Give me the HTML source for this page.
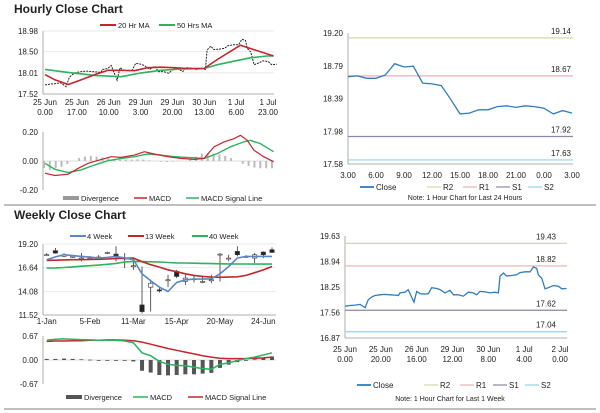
<!DOCTYPE html>
<html><head><meta charset="utf-8"><style>
html,body{margin:0;padding:0;background:#fff;}
svg{display:block;font-family:"Liberation Sans",Arial,sans-serif;}
text{fill:#222;}
</style></head><body>
<svg id="s" width="600" height="413" viewBox="0 0 600 413" xmlns="http://www.w3.org/2000/svg">
<text x="14" y="13" font-size="12" font-weight="bold">Hourly Close Chart</text>
<text x="14" y="219" font-size="12" font-weight="bold">Weekly Close Chart</text>
<line x1="4" y1="205" x2="596" y2="205" stroke="#aaa" stroke-width="1.5"/>
<line x1="4" y1="409" x2="596" y2="409" stroke="#aaa" stroke-width="1.5"/>
<text x="465" y="200" font-size="7" text-anchor="middle">Note: 1 Hour Chart for Last 24 Hours</text>
<text x="450" y="401" font-size="7" text-anchor="middle">Note: 1 Hour Chart for Last 1 Week</text>
</svg>
<script>
// ---------- data ----------
const wkHours=[0,2.8,5.6,8.4,11.2,13,14.9,16.7,19.5,22.3,25.1,27.9,29.8,30.7,33.5,35.3,36.8,38.5,40,41.9,44.7,46.5,48.4,51.2,53,55.8,58.6,60.5,63.3,66.0,68.8,71.6,73.5,75.3,78.1,80.9,83.7,85.6,86.5,88.4,90.2,93,95.8,97.7,100.5,103.3,105.1,107,107.9,109.8,111.6,113.5,116.3,119.1,121,123.7];
const wkClose=[17.73,17.75,17.76,17.78,17.69,17.91,17.98,18.02,18.04,18.05,18.04,18.03,18.02,18.09,18.11,18.18,18.02,17.84,18.13,18.07,18.06,18.07,18.23,18.21,18.18,18.09,18.16,18.04,18.04,18.00,18.11,18.09,18.04,18.13,18.12,18.09,18.11,18.09,18.54,18.63,18.55,18.56,18.58,18.64,18.66,18.66,18.79,18.76,18.58,18.49,18.20,18.23,18.29,18.27,18.20,18.21];
const ma20Hours=[0,5.3,12.4,19.4,26.5,33.6,40.7,47.7,54.8,61.9,69,76,84.9,92,99,104.3,111.4,118.5,122];
const ma20=[17.97,17.85,17.74,17.85,17.97,18.07,18.07,18.06,18.13,18.14,18.13,18.11,18.11,18.32,18.51,18.65,18.55,18.45,18.40];
const ma50Hours=[0,12.4,26.5,40.7,51.3,61.9,72.5,84.9,92,100.8,109.6,118.5,122];
const ma50=[18.09,18.02,17.95,17.92,18.01,18.07,18.10,18.11,18.20,18.28,18.36,18.40,18.40];
const hMacdHours=[0,5.3,12.4,17.7,23,30.1,35.4,40.7,47.7,53,58.3,65.4,72.5,79.6,84.9,90.2,95.5,100.8,104.3,107.9,111.4,116.7,122];
const hMacd=[-0.084,-0.10,-0.091,-0.05,-0.016,0.011,0.03,0.025,0.041,0.064,0.048,0.03,0.018,0.011,0.018,0.098,0.132,0.154,0.177,0.143,0.075,0.03,-0.005];
const hSigHours=[0,5.3,12.4,19.4,26.5,33.6,40.7,47.7,54.8,61.9,69,76,84.9,92,99,106.1,109.6,114.9,122];
const hSig=[-0.016,-0.057,-0.079,-0.061,-0.027,0.002,0.018,0.03,0.048,0.041,0.03,0.025,0.018,0.052,0.098,0.132,0.143,0.12,0.064];
const hDiv=[-0.05,-0.06,-0.05,-0.04,-0.02,0.0,0.02,0.03,0.035,0.03,0.025,0.02,0.01,0.01,0.008,0.01,0.012,0.01,0.005,0.0,-0.005,-0.007,-0.005,-0.003,0.0,0.01,0.03,0.05,0.055,0.05,0.045,0.035,0.02,0.0,-0.02,-0.035,-0.045,-0.05,-0.05,-0.05];
const hTicks=[17.52,18.01,18.50,18.98];
const hXLabels=[["25 Jun","0.00"],["25 Jun","17.00"],["26 Jun","10.00"],["29 Jun","3.00"],["29 Jun","20.00"],["30 Jun","13.00"],["1 Jul","6.00"],["1 Jul","23.00"]];
const hXLabelHours=[0,17,34,51,68,85,102,119];

const dayHours=[0,1,2,3,4,5,6,7,8,9,10,11,12,13,14,15,16,17,18,19,20,21,22,23,24];
const dayClose=[18.66,18.67,18.64,18.64,18.68,18.82,18.78,18.79,18.58,18.57,18.55,18.38,18.20,18.21,18.25,18.25,18.29,18.30,18.28,18.30,18.29,18.27,18.20,18.24,18.21];
const dayTicks=[17.58,17.98,18.39,18.79,19.20];
const dayXLabels=["3.00","6.00","9.00","12.00","15.00","18.00","21.00","0.00","3.00"];
const dayLevels=[19.14,18.67,17.92,17.63];
const wkLevels=[19.43,18.82,17.62,17.04];
const levelNames=["R2","R1","S1","S2"];
const wkTicks=[16.87,17.56,18.25,18.94,19.63];
const wkXLabels=[["25 Jun","0.00"],["25 Jun","20.00"],["26 Jun","16.00"],["29 Jun","12.00"],["30 Jun","8.00"],["1 Jul","4.00"],["2 Jul","0.00"]];
const wkXLabelHours=[0,20,40,60,80,100,120];

const wOpen=[18.04,18.48,17.86,17.86,17.68,17.68,17.79,18.29,18.11,17.68,16.85,12.61,14.53,14.24,15.33,16.23,15.15,15.44,15.15,15.33,18.11,17.68,18.40,17.86,17.68,18.33,18.58];
const wClose=[18.04,18.22,18.04,17.86,17.68,17.68,17.79,18.29,17.86,17.68,16.85,11.89,14.96,14.13,15.33,15.69,15.51,15.44,15.15,15.33,18.11,17.68,18.04,17.86,18.04,18.04,18.29];
const wHigh=[18.2,18.77,18.2,18.0,18.22,17.9,18.0,18.4,18.95,18.22,17.5,16.77,15.33,14.6,15.87,16.41,15.87,15.76,15.69,15.87,18.22,18.04,18.95,18.0,18.22,18.40,18.84];
const wLow=[17.9,18.15,17.8,17.7,17.32,17.5,17.6,18.1,17.32,16.59,16.41,11.70,11.89,13.95,14.53,15.51,14.78,15.04,14.96,14.96,15.15,17.32,17.86,17.7,17.14,17.68,18.22];
const w4=[17.50,17.8,18.04,17.95,17.86,17.78,17.68,17.75,17.86,17.7,17.50,15.98,15.22,14.53,14.06,15.04,15.33,15.40,15.40,15.44,15.98,16.77,17.68,17.86,17.86,17.86,17.86];
const w13=[17.43,17.45,17.48,17.5,17.5,17.52,17.55,17.58,17.62,17.66,17.68,17.3,16.96,16.7,16.41,16.2,15.98,15.8,15.7,15.62,15.6,15.62,15.65,15.8,16.1,16.4,16.77];
const w40=[16.59,16.62,16.66,16.72,16.8,16.85,16.92,17.0,17.1,17.25,17.32,17.3,17.28,17.25,17.2,17.15,17.14,17.12,17.1,17.08,17.06,17.05,17.04,17.04,17.03,17.03,17.03];
const wMacd=[0.55,0.58,0.59,0.58,0.57,0.56,0.55,0.55,0.55,0.53,0.48,0.20,0.12,-0.04,-0.12,-0.15,-0.16,-0.20,-0.24,-0.26,-0.12,-0.08,-0.02,0.04,0.08,0.14,0.20];
const wSig=[0.52,0.53,0.53,0.54,0.54,0.55,0.55,0.56,0.56,0.55,0.54,0.50,0.44,0.38,0.32,0.27,0.22,0.17,0.12,0.08,0.05,0.04,0.04,0.04,0.05,0.06,0.08];
const wDiv=[0.03,0.03,0.04,0.03,0.02,0.01,0.0,0.0,0.0,-0.01,-0.04,-0.30,-0.35,-0.42,-0.43,-0.42,-0.40,-0.40,-0.38,-0.36,-0.22,-0.13,-0.06,-0.01,0.02,0.05,0.10];
const wTicks=[11.52,14.08,16.64,19.20];
const wXLabels=["1-Jan","5-Feb","11-Mar","15-Apr","20-May","24-Jun"];
const wXLabelIdx=[0,5,10,15,20,25];

// ---------- helpers ----------
const NS="http://www.w3.org/2000/svg";
const svg=document.getElementById('s');
function lin(d0,d1,r0,r1){return v=>r0+(v-d0)*(r1-r0)/(d1-d0);}
function el(tag,attrs){const e=document.createElementNS(NS,tag);for(const k in attrs)e.setAttribute(k,attrs[k]);svg.appendChild(e);return e;}
function txt(x,y,s,size,anchor){const e=el('text',{x:x,y:y,'font-size':size,'text-anchor':anchor||'start'});e.textContent=s;return e;}
function pts(xs,ys,fx,fy){return xs.map((x,i)=>fx(x).toFixed(1)+','+fy(ys[i]).toFixed(1)).join(' ');}
const RED="#c1272d",GREEN="#2db25e",BLUE="#5b87c5",CLOSE="#2f7dbf";
const LVC=["#cfd8a6","#e8b0b0","#8e84a6","#93d3e6"];

// ---------- Hourly close chart (top-left) ----------
{
const x=lin(0,119,45,268), y=lin(17.52,18.98,94,31);
hTicks.forEach(t=>{
  const g=el('line',{x1:43,x2:274,y1:y(t),y2:y(t),stroke:'#e2e2e2','stroke-width':0.7});
  
  
  const l=txt(38,y(t)+3,t.toFixed(2),8,'end');
  
  
});
let a=el('line',{x1:43,x2:43,y1:31,y2:94,stroke:'#999','stroke-width':0.8});


a=el('line',{x1:43,x2:274,y1:94,y2:94,stroke:'#999','stroke-width':0.8});


hXLabels.forEach((lb,i)=>{
  const t1=txt(x(hXLabelHours[i]),105,lb[0],8,'middle');
  
  
  const t2=txt(x(hXLabelHours[i]),115,lb[1],8,'middle');
  
  
});
let p=el('polyline',{points:pts(wkHours,wkClose,x,y),fill:'none',stroke:'#222','stroke-width':1,'stroke-dasharray':'2,1'});


p=el('polyline',{points:pts(ma50Hours,ma50,x,y),fill:'none',stroke:GREEN,'stroke-width':1.6});


p=el('polyline',{points:pts(ma20Hours,ma20,x,y),fill:'none',stroke:RED,'stroke-width':1.6});


let lg=el('line',{x1:100,x2:116,y1:25,y2:25,stroke:RED,'stroke-width':2});


lg=txt(118,28,'20 Hr MA',7.5);


lg=el('line',{x1:159,x2:175,y1:25,y2:25,stroke:GREEN,'stroke-width':2});


lg=txt(177,28,'50 Hrs MA',7.5);



// MACD
const ym=lin(-0.2,0.2,190,132);
[-0.2,0,0.2].forEach(t=>{
  const l=txt(38,ym(t)+3,t.toFixed(2),8,'end');
  
  
});
a=el('line',{x1:43,x2:43,y1:132,y2:190,stroke:'#999','stroke-width':0.8});


a=el('line',{x1:43,x2:274,y1:ym(0),y2:ym(0),stroke:'#bbb','stroke-width':0.6});


const dx=lin(0,hDiv.length-1,44,272);
hDiv.forEach((v,i)=>{
  const b=el('rect',{x:dx(i)-1,y:Math.min(ym(v),ym(0)),width:2,height:Math.abs(ym(v)-ym(0)),fill:'#bbb'});
  
  
});
p=el('polyline',{points:pts(hSigHours,hSig,x,ym),fill:'none',stroke:GREEN,'stroke-width':1.4});


p=el('polyline',{points:pts(hMacdHours,hMacd,x,ym),fill:'none',stroke:RED,'stroke-width':1.2});


lg=el('rect',{x:63,y:196,width:16,height:4,fill:'#999'});


lg=txt(81,201,'Divergence',7.5);


lg=el('line',{x1:134,x2:147,y1:198,y2:198,stroke:RED,'stroke-width':1.5});


lg=txt(149,201,'MACD',7.5);


lg=el('line',{x1:186,x2:199,y1:198,y2:198,stroke:GREEN,'stroke-width':1.5});


lg=txt(201,201,'MACD Signal Line',7.5);


}

// ---------- levels chart helper ----------
function levelChart(prefix,hours,close,ticks,levels,x,y,x0,x1,labX){
  const yb=y(ticks[0]), yt=y(ticks[ticks.length-1]);
  ticks.forEach(t=>{
    const l=txt(x0-5,y(t)+3,t.toFixed(2),8,'end');
    
    
  });
  let a=el('line',{x1:x0,x2:x0,y1:yt,y2:yb,stroke:'#999','stroke-width':0.8});
  
  
  a=el('line',{x1:x0,x2:x1,y1:yb,y2:yb,stroke:'#999','stroke-width':0.8});
  
  
  levels.forEach((v,i)=>{
    const l=el('line',{x1:x0,x2:x1,y1:y(v),y2:y(v),stroke:LVC[i],'stroke-width':1.2});
    
    
    const t=txt(labX,y(v)-4,v.toFixed(2),8,'end');
    
    
  });
  const p=el('polyline',{points:pts(hours,close,x,y),fill:'none',stroke:CLOSE,'stroke-width':1.3});
  
  
}
function levelLegend(prefix,lx,ly){
  const names=["Close"].concat(levelNames), cols=[CLOSE].concat(LVC), offs=[0,67,103,136,168];
  names.forEach((n,i)=>{
    const s=el('line',{x1:lx+offs[i],x2:lx+offs[i]+14,y1:ly,y2:ly,stroke:cols[i],'stroke-width':i==0?1.8:1.2});
    
    
    const t=txt(lx+offs[i]+16,ly+3,n,8);
    
    
  });
}
// top-right
{
const x=lin(0,24,348,572), y=lin(17.58,19.20,164,33);
levelChart('daily',dayHours,dayClose,dayTicks,dayLevels,x,y,348,573,571);
dayXLabels.forEach((s,i)=>{
  const t=txt(x(i*3),178,s,8,'middle');
  
  
});
levelLegend('daily',360,187);
}
// bottom-right
{
const x=lin(0,120,345,560), y=lin(16.87,19.63,338,236);
levelChart('week-hourly',wkHours,wkClose,wkTicks,wkLevels,x,y,345,567,556);
wkXLabels.forEach((lb,i)=>{
  let t=txt(x(wkXLabelHours[i]),352,lb[0],8,'middle');
  
  
  t=txt(x(wkXLabelHours[i]),362,lb[1],8,'middle');
  
  
});
levelLegend('week-hourly',357,385);
}

// ---------- weekly chart ----------
{
const x=lin(0,26,46.7,272), y=lin(11.52,19.20,315,244);
wTicks.forEach(t=>{
  const g=el('line',{x1:43,x2:276,y1:y(t),y2:y(t),stroke:'#e2e2e2','stroke-width':0.7});
  
  
  const l=txt(38,y(t)+3,t.toFixed(2),8,'end');
  
  
});
let a=el('line',{x1:43,x2:43,y1:244,y2:315,stroke:'#999','stroke-width':0.8});


a=el('line',{x1:43,x2:276,y1:315,y2:315,stroke:'#999','stroke-width':0.8});


wXLabels.forEach((s,i)=>{
  const t=txt(x(wXLabelIdx[i]),324,s,8,'middle');
  
  
});
wOpen.forEach((o,i)=>{
  const c=wClose[i], cx=x(i);
  const w=el('line',{x1:cx,x2:cx,y1:y(wHigh[i]),y2:y(wLow[i]),stroke:'#333','stroke-width':0.8});
  
  
  const top=y(Math.max(o,c)), h=Math.max(Math.abs(y(o)-y(c)),1);
  const b=el('rect',{x:cx-2.2,y:top,width:4.4,height:h,fill:c<o?'#222':'#fff',stroke:'#333','stroke-width':0.6});
  
  
});
const idx=w4.map((_,i)=>i);
let p=el('polyline',{points:pts(idx,w40,x,y),fill:'none',stroke:GREEN,'stroke-width':1.6});


p=el('polyline',{points:pts(idx,w13,x,y),fill:'none',stroke:RED,'stroke-width':1.6});


p=el('polyline',{points:pts(idx,w4,x,y),fill:'none',stroke:BLUE,'stroke-width':1.6});


const L=[["4 Week",BLUE,70],["13 Week",RED,128],["40 Week",GREEN,192]];
L.forEach(l=>{
  const s=el('line',{x1:l[2],x2:l[2]+16,y1:236,y2:236,stroke:l[1],'stroke-width':2});
  
  
  const t=txt(l[2]+17,239,l[0],7.5);
  
  
});
// MACD
const ym=lin(-0.67,0.67,384,336);
[-0.67,0,0.67].forEach(t=>{
  const l=txt(38,ym(t)+3,t.toFixed(2),8,'end');
  
  
});
a=el('line',{x1:43,x2:43,y1:336,y2:384,stroke:'#999','stroke-width':0.8});


a=el('line',{x1:43,x2:276,y1:ym(0),y2:ym(0),stroke:'#bbb','stroke-width':0.6});


wDiv.forEach((v,i)=>{
  const b=el('rect',{x:x(i)-2,y:Math.min(ym(v),ym(0)),width:4,height:Math.max(Math.abs(ym(v)-ym(0)),0.8),fill:'#555'});
  
  
});
p=el('polyline',{points:pts(idx,wSig,x,ym),fill:'none',stroke:RED,'stroke-width':1.5});


p=el('polyline',{points:pts(idx,wMacd,x,ym),fill:'none',stroke:GREEN,'stroke-width':1.5});


let lg=el('rect',{x:66,y:395,width:16,height:4,fill:'#555'});


lg=txt(84,400,'Divergence',7.5);


lg=el('line',{x1:133,x2:148,y1:397,y2:397,stroke:GREEN,'stroke-width':1.5});


lg=txt(150,400,'MACD',7.5);


lg=el('line',{x1:188,x2:203,y1:397,y2:397,stroke:RED,'stroke-width':1.5});


lg=txt(205,400,'MACD Signal Line',7.5);


}
</script>
</body></html>
